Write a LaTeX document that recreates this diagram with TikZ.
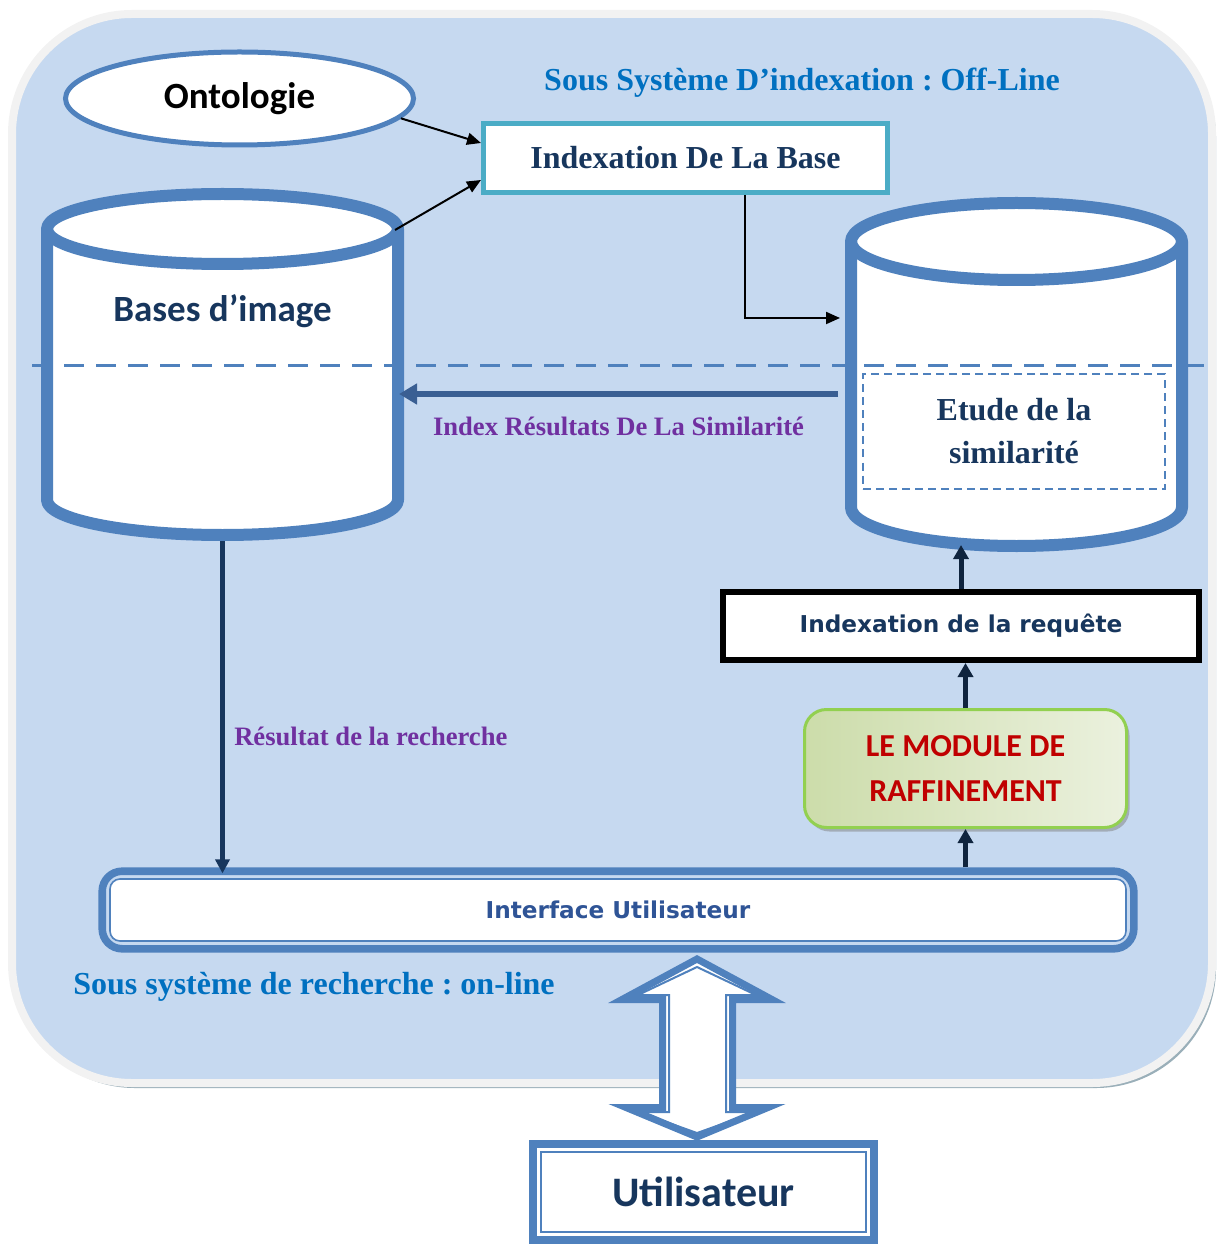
\documentclass[tikz,border=0pt]{standalone}
\usepackage{fontspec}
\setmainfont{Liberation Serif}
\newfontfamily\calibrifont{Carlito}
\newfontfamily\verdanafont{DejaVu Sans}
\usetikzlibrary{positioning,arrows.meta,shapes.geometric,fit,shadows}
\frenchspacing

\definecolor{bgblue}{HTML}{C6D9F0}
\definecolor{rimgray}{HTML}{F2F2F2}
\definecolor{shadowgray}{HTML}{9AAFB9}
\definecolor{borderblue}{HTML}{4F81BD}
\definecolor{cyanline}{HTML}{4BACC6}
\definecolor{txtnavy}{HTML}{17365D}
\definecolor{ifacetxt}{HTML}{2F5496}
\definecolor{titleblue}{HTML}{0070C0}
\definecolor{labelpurple}{HTML}{7030A0}
\definecolor{moduleRed}{HTML}{C00000}
\definecolor{moduleGreen}{HTML}{92D050}
\definecolor{moduleDark}{HTML}{C3D69B}
\definecolor{moduleLight}{HTML}{EBF1DE}
\definecolor{arrowblue}{HTML}{3A5F93}
\definecolor{deepnavy}{HTML}{0F243E}

\begin{document}
\begin{tikzpicture}[
  x=0.5pt, y=-0.5pt,
  title/.style={font=\bfseries\fontsize{16}{19}\selectfont, text=titleblue},
  edgelabel/.style={font=\bfseries\fontsize{13.3}{16}\selectfont, text=labelpurple},
  dbline/.style={draw=borderblue, fill=white, line width=6pt, line join=round},
  anchorbox/.style={inner sep=0pt, outer sep=0pt},
  ontobox/.style={
    ellipse, draw=borderblue, fill=white, line width=2.5pt,
    minimum width=174pt, minimum height=46.5pt, inner sep=0pt,
    font=\calibrifont\bfseries\fontsize{18.5}{22}\selectfont
  },
  basebox/.style={
    rectangle, draw=cyanline, fill=white, line width=2.5pt,
    minimum width=202pt, minimum height=34.5pt,
    font=\bfseries\fontsize{16}{19}\selectfont, text=txtnavy
  },
  simbox/.style={
    rectangle, draw=borderblue, dash pattern=on 4pt off 2.5pt, line width=1pt,
    minimum width=151pt, minimum height=57pt, align=center,
    font=\bfseries\fontsize{16}{21.5}\selectfont, text=txtnavy
  },
  reqbox/.style={
    rectangle, draw=black, fill=white, line width=3pt,
    minimum width=238pt, minimum height=34pt,
    font=\verdanafont\bfseries\fontsize{11.6}{14}\selectfont, text=txtnavy
  },
  modbox/.style={
    rectangle, rounded corners=11pt, draw=moduleGreen, line width=1.5pt,
    left color=moduleDark!85!white, right color=moduleLight,
    drop shadow={shadow xshift=1.5pt, shadow yshift=-2pt, fill=black!50, opacity=.5},
    minimum width=161pt, minimum height=59pt, align=center,
    font=\calibrifont\bfseries\fontsize{16}{22}\selectfont, text=moduleRed
  },
  ifacebox/.style={
    rectangle, rounded corners=5pt, draw=borderblue, fill=white, line width=0.8pt,
    minimum width=508pt, minimum height=31pt,
    font=\verdanafont\bfseries\fontsize{11.6}{14}\selectfont, text=ifacetxt
  },
  userbox/.style={
    rectangle, draw=borderblue, fill=white, line width=0.8pt,
    minimum width=162.5pt, minimum height=40pt,
    font=\calibrifont\bfseries\fontsize{21}{25}\selectfont, text=txtnavy
  },
  outerframe/.style={draw=borderblue, line width=3.8pt, inner sep=3.5pt},
  thinarrow/.style={-{Triangle[length=7pt,width=6pt]}, line width=1pt, black},
  resarrow/.style={-{Triangle[length=9pt,width=10pt]}, line width=3pt, arrowblue},
  navyarrow/.style={-{Triangle[length=7pt,width=7pt]}, line width=2.5pt, txtnavy},
  uparrow/.style={-{Triangle[length=7pt,width=7.5pt]}, line width=2.5pt, deepnavy}
]
\useasboundingbox (0,0) rectangle (1220,1245);

% =====================================================
% BACKGROUND PANEL
% =====================================================

\fill[shadowgray, rounded corners=60pt] (15,18) rectangle (1216,1088);
\draw[fill=bgblue, draw=rimgray, line width=4pt, rounded corners=60pt]
  (12,14) rectangle (1212,1083);

% =====================================================
% OFF-LINE PART
% =====================================================

\node[title] (offline) at (802,83) {Sous Système D’indexation : Off-Line};

\node[ontobox] (onto) at (239.5,98.5) {Ontologie};

\node[basebox] (idxbase) at (685.5,158) {Indexation De La Base};

% image database (left cylinder)
\draw[dbline] (47,229) -- (47,500)
  arc[start angle=180, end angle=0, x radius=175.5, y radius=35] -- (398,229)
  arc[start angle=0, end angle=-180, x radius=175.5, y radius=35] -- cycle;
\draw[dbline, fill=none] (47,229)
  arc[start angle=180, end angle=0, x radius=175.5, y radius=35];
\node[anchorbox, minimum width=181.5pt, minimum height=176.5pt] (bases) at (222.5,364.5) {};
\node[font=\calibrifont\bfseries\fontsize{18.5}{22}\selectfont, text=txtnavy]
  (basestxt) at (222.5,311) {Bases d’image};

% index database (right cylinder)
\draw[dbline] (851,241.5) -- (851,507.5)
  arc[start angle=180, end angle=0, x radius=165.5, y radius=38.5] -- (1182,241.5)
  arc[start angle=0, end angle=-180, x radius=165.5, y radius=38.5] -- cycle;
\draw[dbline, fill=none] (851,241.5)
  arc[start angle=180, end angle=0, x radius=165.5, y radius=38.5];
\node[anchorbox, minimum width=171.5pt, minimum height=177.5pt] (simdb) at (1016.5,374.5) {};

% off-line / on-line separation
\draw[borderblue, line width=1.5pt, dash pattern=on 10pt off 6pt] (32,366) -- (1215,366);

\node[simbox] (sim) at (1014,431.5) {Etude de la\\similarité};

\draw[thinarrow] (onto.-7) -- ([yshift=7.5pt]idxbase.west);
\draw[thinarrow] ([shift={(-4.5pt,-21pt)}]bases.north east) -- ([yshift=-11pt]idxbase.west);
\draw[thinarrow] ([xshift=29.75pt]idxbase.south) |- ([shift={(-2.5pt,28.25pt)}]simdb.west);

\draw[resarrow] ([shift={(-3.5pt,-9.75pt)}]simdb.west) -- ([shift={(-2.5pt,-14.75pt)}]bases.east)
  node[edgelabel, midway, yshift=-16pt] {Index Résultats De La Similarité};

% =====================================================
% ON-LINE PART
% =====================================================

\node[reqbox] (req) at (961,626) {Indexation de la requête};

\node[modbox] (module) at (965.5,768.5) {LE MODULE DE\\RAFFINEMENT};

\node[ifacebox] (iface) at (618,910) {Interface Utilisateur};
\node[outerframe, rounded corners=10pt, fit=(iface)] (ifaceframe) {};

\node[title] (online) at (314,987) {Sous système de recherche : on-line};

\draw[navyarrow, shorten >=-3pt] (bases.south) -- (bases.south |- ifaceframe.north)
  node[edgelabel, pos=0.6, anchor=west, xshift=1.3pt] {Résultat de la recherche};

\draw[uparrow] (ifaceframe.north -| module.south) -- (module.south);
\draw[uparrow] (module.north) -- (module.north |- req.south);
\draw[uparrow] (req.north) -- ([yshift=3.5pt]simdb.south -| req.north);

% user and the two-way link
\node[userbox] (user) at (703.5,1192) {Utilisateur};
\node[outerframe, fit=(user)] (userframe) {};

\draw[draw=borderblue, fill=white, line width=3.5pt, line join=miter]
  (697,959) -- (622,999.5) -- (662.5,999.5) -- (662.5,1107.5) -- (626,1107.5)
  -- (697,1137) -- (768,1107.5) -- (732.5,1107.5) -- (732.5,999.5) -- (772,999.5) -- cycle;
\draw[draw=borderblue, line width=1pt]
  (697,967) -- (638,995) -- (669,995) -- (669,1112) -- (638,1112)
  -- (697,1133) -- (756,1112) -- (726,1112) -- (726,995) -- (756,995) -- cycle;

\end{tikzpicture}
\end{document}
